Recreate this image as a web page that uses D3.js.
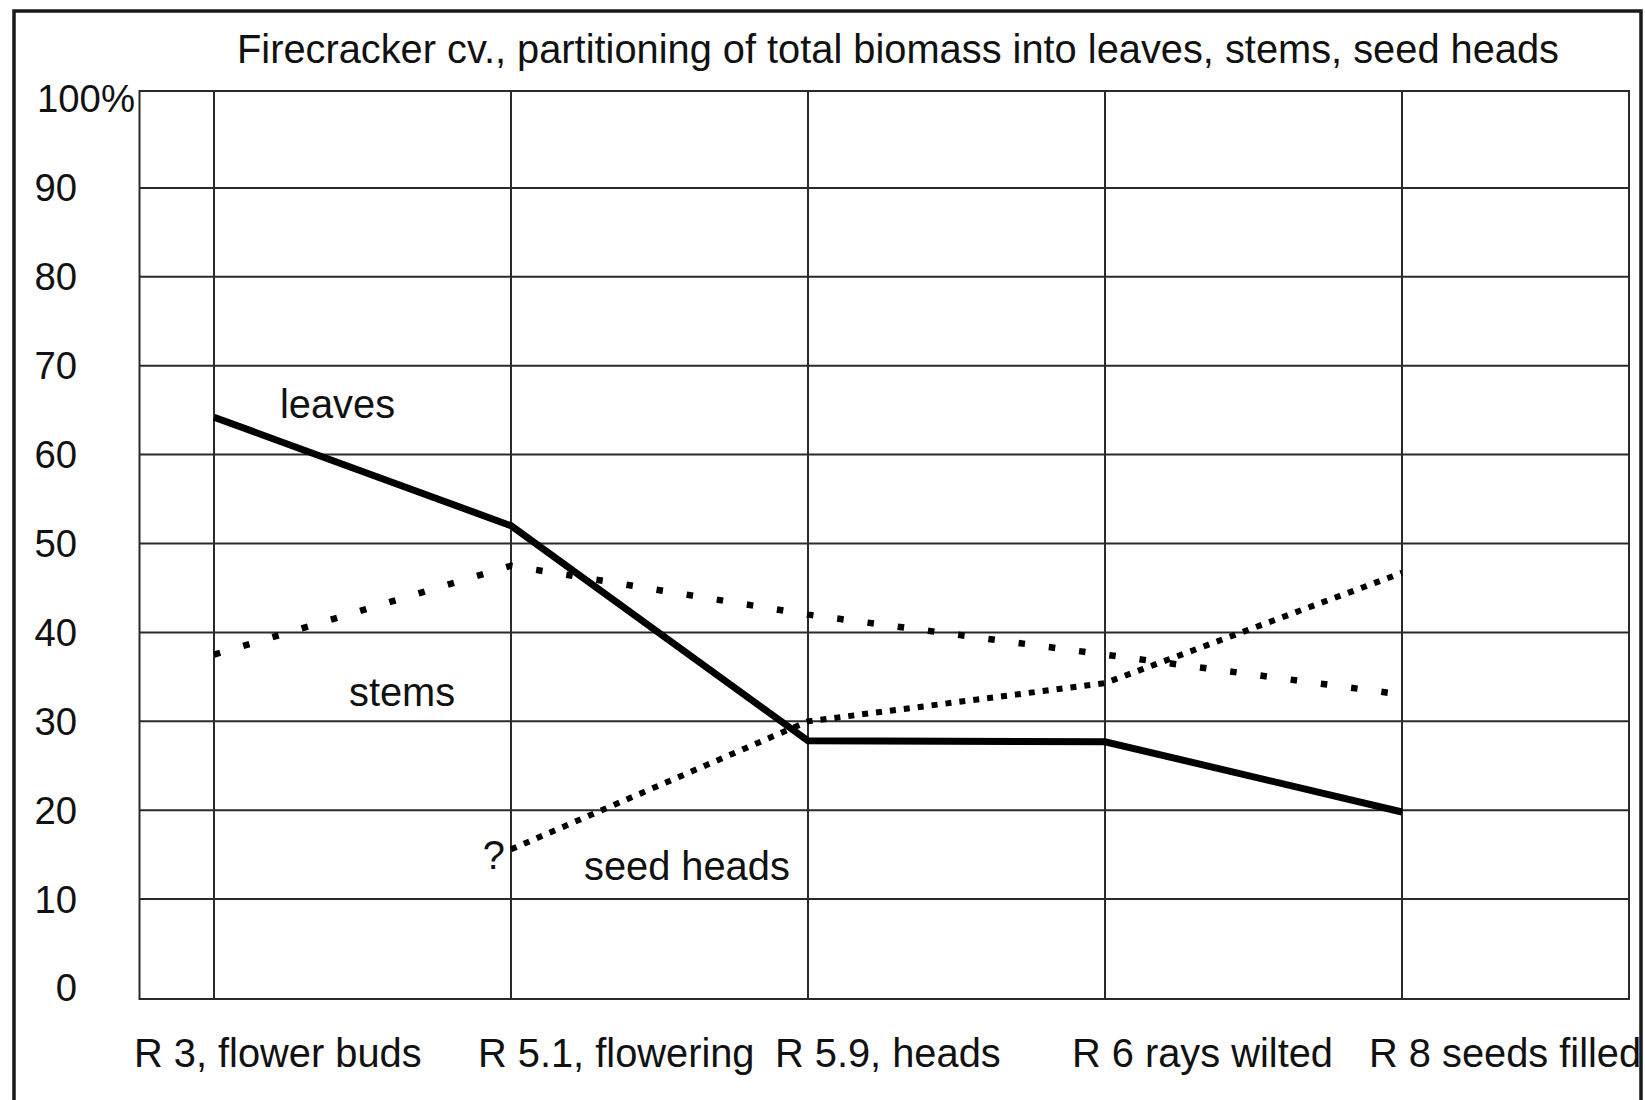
<!DOCTYPE html>
<html>
<head>
<meta charset="utf-8">
<script src="https://cdn.jsdelivr.net/npm/d3@7"></script>
<style>
  html, body { margin: 0; padding: 0; background: #fff; }
  svg { display: block; }
  text { font-family: "Liberation Sans", Arial, Helvetica, sans-serif; fill: #111; }
</style>
</head>
<body>
<svg id="chart" width="1645" height="1100"></svg>
<script>
// ---- data ----
const categories = ["R 3, flower buds", "R 5.1, flowering", "R 5.9, heads", "R 6 rays wilted", "R 8 seeds filled"];
const leaves = [64.2, 52.0, 27.8, 27.7, 19.8];
const stems = [37.5, 47.5, 42.0, 37.5, 33.0];
const seedHeads = [null, 15.6, 30.0, 34.3, 46.7];
const yTicks = [0, 10, 20, 30, 40, 50, 60, 70, 80, 90, 100];
const title = "Firecracker cv., partitioning of total biomass into leaves, stems, seed heads";

// ---- layout ----
const svg = d3.select("#chart");
const W = 1645, H = 1100;
const plotLeft = 139.5, plotRight = 1629;
const FS = 39.8;

const x = d3.scalePoint().domain(categories).range([214, 1402]);
const y = d3.scaleLinear().domain([0, 100]).range([988, 99]);
const frameTop = y(100) - 8, frameBottom = y(0) + 11;

svg.append("rect").attr("width", W).attr("height", H).attr("fill", "#fff");

// outer frame
svg.append("path")
  .attr("d", `M14,${H + 5} L14,11 L1641,11 L1641,${H + 5}`)
  .attr("fill", "none").attr("stroke", "#1a1a1a").attr("stroke-width", 3.5);

// title
svg.append("text").attr("x", 237).attr("y", 63)
  .attr("font-size", FS).text(title);

// horizontal gridlines
const gridColor = "#2a2a2a";
svg.append("g").selectAll("line")
  .data(yTicks.filter(t => t > 0 && t < 100))
  .join("line")
  .attr("x1", plotLeft).attr("x2", plotRight)
  .attr("y1", d => y(d)).attr("y2", d => y(d))
  .attr("stroke", gridColor).attr("stroke-width", 2);

// vertical gridlines
svg.append("g").selectAll("line")
  .data(categories)
  .join("line")
  .attr("x1", d => x(d)).attr("x2", d => x(d))
  .attr("y1", frameTop).attr("y2", frameBottom)
  .attr("stroke", gridColor).attr("stroke-width", 2);

// plot frame
svg.append("rect")
  .attr("x", plotLeft).attr("y", frameTop)
  .attr("width", plotRight - plotLeft).attr("height", frameBottom - frameTop)
  .attr("fill", "none").attr("stroke", gridColor).attr("stroke-width", 2);

// y axis labels
svg.append("g").attr("class", "y-labels").selectAll("text")
  .data(yTicks)
  .join("text")
  .attr("x", d => d === 100 ? 37 : 77)
  .attr("y", d => y(d))
  .attr("dy", "0.35em")
  .attr("text-anchor", d => d === 100 ? "start" : "end")
  .attr("font-size", FS - 1.5)
  .text(d => d === 100 ? "100%" : d);

// x axis labels
svg.append("g").selectAll("text")
  .data(categories)
  .join("text")
  .attr("x", (d, i) => x(d) - (i === 0 ? 80 : 33))
  .attr("y", 1067)
  .attr("text-anchor", "start")
  .attr("font-size", FS)
  .text(d => d);

// series
const pts = arr => arr.map((v, i) => ({ c: categories[i], v }));
const line = d3.line().defined(d => d.v != null).x(d => x(d.c)).y(d => y(d.v));

svg.append("path").datum(pts(leaves))
  .attr("d", line).attr("fill", "none")
  .attr("stroke", "#000").attr("stroke-width", 7).attr("stroke-linejoin", "miter");

svg.append("path").datum(pts(stems))
  .attr("d", line).attr("fill", "none")
  .attr("stroke", "#000").attr("stroke-width", 6.5)
  .attr("stroke-dasharray", "6.5 24");

svg.append("path").datum(pts(seedHeads))
  .attr("d", line).attr("fill", "none")
  .attr("stroke", "#000").attr("stroke-width", 6)
  .attr("stroke-dasharray", "6 8");

// annotations
const ann = svg.append("g").attr("font-size", FS);
ann.append("text").attr("x", x(categories[0]) + 66).attr("y", y(65.7)).attr("dy", "0.35em").text("leaves");
ann.append("text").attr("x", x(categories[0]) + 135).attr("y", y(33.3)).attr("dy", "0.35em").text("stems");
ann.append("text").attr("x", x(categories[1]) + 73).attr("y", y(13.7)).attr("dy", "0.35em").text("seed heads");
ann.append("text").attr("x", x(categories[1]) - 6).attr("y", y(15.0)).attr("dy", "0.35em")
  .attr("text-anchor", "end").text("?");
</script>
</body>
</html>
